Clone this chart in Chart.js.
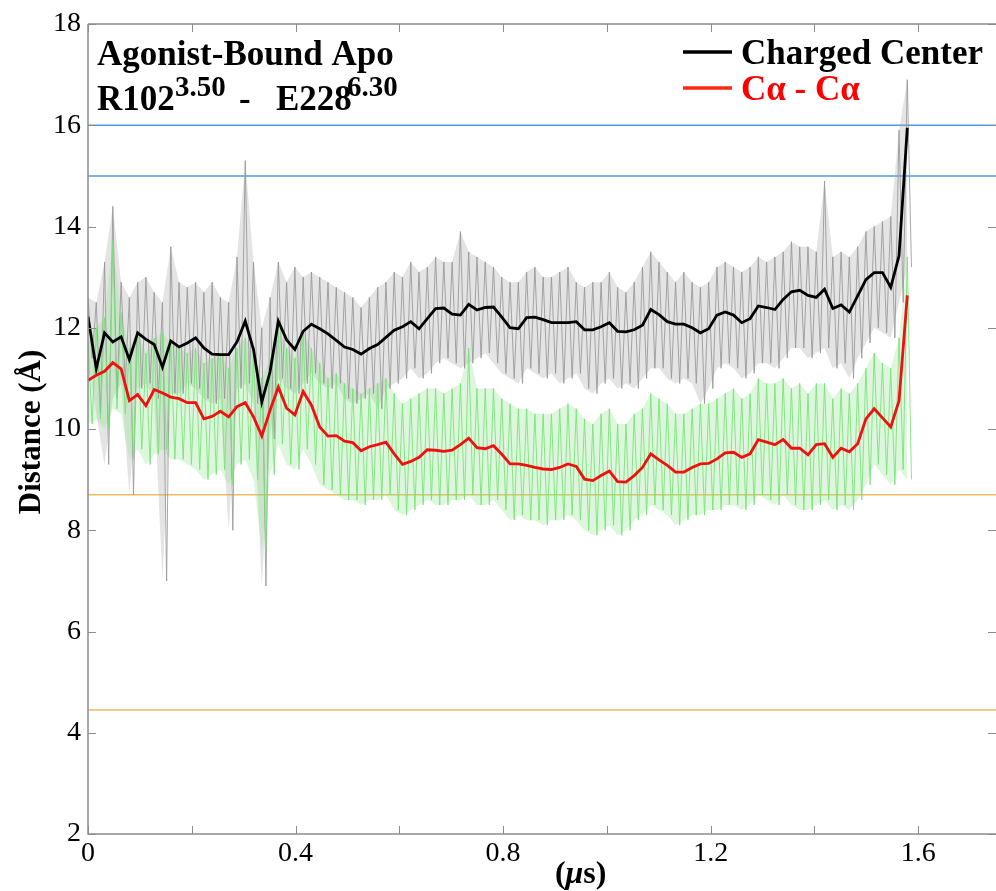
<!DOCTYPE html>
<html>
<head>
<meta charset="utf-8">
<script src="https://cdn.jsdelivr.net/npm/chart.js@4.4.1/dist/chart.umd.min.js"></script>
<style>
  html, body { margin: 0; padding: 0; background: #fff; }
  #wrap { width: 996px; height: 891px; }
</style>
</head>
<body>
<div id="wrap"><canvas id="distChart" width="996" height="891"></canvas></div>
<script>
// time between smoothed samples (us)
const timeStep = 0.01595;

// smoothed traces
const chargedCenter = [
  12.22, 11.19, 11.90, 11.72, 11.82, 11.37, 11.90, 11.77, 11.67, 11.22,
  11.74, 11.62, 11.70, 11.80, 11.60, 11.48, 11.47, 11.47, 11.72, 12.13,
  11.57, 10.53, 11.13, 12.13, 11.76, 11.57, 11.93, 12.07, 11.98, 11.88,
  11.75, 11.62, 11.57, 11.48, 11.59, 11.67, 11.81, 11.95, 12.02, 12.12,
  11.98, 12.18, 12.38, 12.39, 12.27, 12.25, 12.46, 12.35, 12.40, 12.41,
  12.21, 12.00, 11.98, 12.20, 12.21, 12.16, 12.10, 12.10, 12.10, 12.12,
  11.96, 11.96, 12.02, 12.10, 11.93, 11.92, 11.96, 12.05, 12.36, 12.26,
  12.12, 12.07, 12.07, 12.00, 11.90, 11.98, 12.25, 12.31, 12.25, 12.10,
  12.18, 12.43, 12.40, 12.36, 12.56, 12.71, 12.74, 12.64, 12.60, 12.76,
  12.38, 12.45, 12.31, 12.63, 12.95, 13.09, 13.09, 12.80, 13.42, 15.95
];
const caCa = [
  10.96, 11.06, 11.14, 11.31, 11.19, 10.56, 10.68, 10.46, 10.78, 10.71,
  10.63, 10.60, 10.52, 10.52, 10.20, 10.25, 10.35, 10.24, 10.44, 10.52,
  10.24, 9.86, 10.37, 10.83, 10.41, 10.28, 10.74, 10.47, 10.04, 9.86,
  9.87, 9.76, 9.73, 9.57, 9.65, 9.69, 9.74, 9.51, 9.30, 9.36,
  9.44, 9.59, 9.58, 9.56, 9.58, 9.69, 9.82, 9.63, 9.61, 9.67,
  9.50, 9.31, 9.31, 9.28, 9.24, 9.21, 9.20, 9.24, 9.31, 9.26,
  9.01, 8.98, 9.08, 9.17, 8.96, 8.95, 9.08, 9.24, 9.51, 9.39,
  9.28, 9.15, 9.15, 9.24, 9.31, 9.32, 9.41, 9.53, 9.54, 9.44,
  9.51, 9.79, 9.74, 9.69, 9.79, 9.62, 9.62, 9.49, 9.69, 9.71,
  9.44, 9.62, 9.55, 9.71, 10.20, 10.40, 10.22, 10.04, 10.56, 12.64
];

// raw fluctuations: highs and lows around each smoothed sample
const chargedHi = [
  12.6, 12.5, 13.3, 14.4, 12.9, 12.6, 12.9, 13.0, 12.7, 12.5,
  13.6, 12.9, 12.8, 12.9, 12.7, 12.9, 12.6, 12.5, 13.4, 15.3,
  13.3, 12.0, 12.6, 13.3, 12.9, 13.2, 13.0, 13.1, 13.0, 12.9,
  12.8, 12.7, 12.6, 12.4, 12.6, 12.8, 12.9, 13.1, 13.0, 13.3,
  13.1, 13.2, 13.4, 13.3, 13.3, 13.9, 13.5, 13.4, 13.3, 13.2,
  13.0, 12.9, 12.9, 13.1, 13.2, 13.0, 13.0, 13.1, 13.2, 12.9,
  12.8, 12.9, 12.9, 13.1, 12.8, 12.7, 12.9, 13.2, 13.5, 13.3,
  13.1, 12.9, 13.1, 12.9, 12.8, 12.9, 13.2, 13.3, 13.2, 13.1,
  13.2, 13.4, 13.3, 13.4, 13.5, 13.7, 13.6, 13.6, 13.5, 14.9,
  13.4, 13.5, 13.4, 13.6, 13.9, 14.0, 14.1, 14.2, 15.9, 16.9
];
const chargedLo = [
  11.4, 10.3, 9.3, 10.6, 10.9, 8.7, 10.8, 10.9, 10.6, 7.0,
  10.7, 10.7, 10.9, 10.8, 10.6, 10.5, 10.6, 8.0, 10.8, 10.9,
  10.5, 6.9, 9.8, 11.0, 10.8, 10.7, 10.9, 11.1, 10.9, 10.8,
  10.9, 10.6, 10.5, 10.6, 10.7, 10.4, 10.8, 10.9, 11.0, 11.2,
  11.0, 11.1, 11.3, 11.4, 11.3, 11.2, 11.3, 11.4, 11.5, 11.3,
  11.1, 11.0, 10.9, 11.2, 11.1, 11.0, 11.1, 10.9, 11.0, 11.1,
  10.8, 10.7, 10.9, 11.0, 10.8, 10.9, 10.8, 11.0, 11.2, 11.2,
  11.0, 10.9, 11.0, 10.9, 10.5, 10.8, 11.2, 11.3, 11.2, 11.0,
  11.1, 11.3, 11.3, 11.2, 11.4, 11.6, 11.6, 11.4, 11.5, 11.6,
  11.2, 11.3, 11.0, 11.4, 11.7, 12.0, 11.9, 11.8, 12.5, 13.2
];
const caHi = [
  11.7, 12.0, 12.2, 13.7, 12.3, 11.6, 11.9, 11.5, 11.8, 11.9,
  11.7, 11.6, 11.5, 11.6, 11.3, 11.4, 11.5, 11.2, 11.6, 11.8,
  11.5, 11.0, 11.4, 12.0, 11.6, 11.4, 11.9, 11.6, 11.3, 11.0,
  11.1, 10.9, 10.8, 10.7, 10.8, 10.9, 11.0, 10.7, 10.5, 10.6,
  10.7, 10.8, 10.8, 10.7, 10.8, 10.9, 11.6, 10.8, 10.8, 10.8,
  10.6, 10.5, 10.4, 10.4, 10.3, 10.3, 10.3, 10.4, 10.5, 10.4,
  10.2, 10.1, 10.3, 10.4, 10.1, 10.1, 10.3, 10.4, 10.7, 10.6,
  10.5, 10.3, 10.3, 10.4, 10.5, 10.5, 10.6, 10.7, 10.8, 10.6,
  10.7, 11.0, 10.9, 10.9, 11.0, 10.8, 10.9, 10.7, 10.9, 10.9,
  10.6, 10.8, 10.7, 10.9, 11.2, 11.5, 11.3, 11.2, 11.8, 13.4
];
const caLo = [
  10.1, 10.2, 10.0, 10.4, 10.3, 9.4, 9.6, 9.3, 9.5, 9.6,
  9.4, 9.4, 9.3, 9.2, 9.0, 9.1, 9.2, 8.9, 9.3, 9.4,
  9.0, 7.6, 9.1, 9.7, 9.3, 9.2, 9.6, 9.3, 8.9, 8.8,
  8.7, 8.6, 8.6, 8.5, 8.6, 8.6, 8.7, 8.4, 8.3, 8.4,
  8.5, 8.6, 8.5, 8.5, 8.6, 8.6, 8.7, 8.5, 8.5, 8.6,
  8.4, 8.2, 8.3, 8.2, 8.2, 8.1, 8.2, 8.2, 8.3, 8.2,
  8.0, 7.9, 8.0, 8.1, 7.9, 8.0, 8.2, 8.3, 8.5, 8.4,
  8.3, 8.1, 8.2, 8.3, 8.3, 8.4, 8.4, 8.5, 8.5, 8.4,
  8.5, 8.7, 8.6, 8.5, 8.7, 8.5, 8.4, 8.4, 8.5, 8.6,
  8.4, 8.5, 8.4, 8.6, 8.9, 9.3, 9.1, 8.9, 9.2, 9.0
];

// horizontal reference levels
const refLevels = [16, 15, 8.7, 4.45];
const refColors = ['#4a9de6', '#4a9de6', '#f2bb5c', '#f2bb5c'];

const xTicks = [0, 0.2, 0.4, 0.6, 0.8, 1.0, 1.2, 1.4, 1.6];
const xTickLabels = ['0', '', '0.4', '', '0.8', '', '1.2', '', '1.6'];
const yTicks = [2, 4, 6, 8, 10, 12, 14, 16, 18];
const yTickLabels = ['2', '4', '6', '8', '10', '12', '14', '16', '18'];

const X_MAX = 1.75;
const serif = '"Liberation Serif", "Times New Roman", serif';

function toPoints(vals) {
  return vals.map((v, i) => ({ x: i * timeStep, y: v }));
}
function zigzag(hi, lo) {
  const pts = [];
  hi.forEach((h, i) => {
    pts.push({ x: i * timeStep, y: h });
    pts.push({ x: (i + 0.5) * timeStep, y: lo[i] });
  });
  return pts;
}

const datasets = [];
refLevels.forEach((lvl, i) => {
  datasets.push({
    data: [{ x: 0, y: lvl }, { x: X_MAX, y: lvl }],
    borderColor: refColors[i],
    borderWidth: 1.5,
    pointRadius: 0,
    order: 10
  });
});
// shaded envelopes of the raw traces (hi filled down to lo)
datasets.push({
  data: toPoints(chargedHi),
  borderWidth: 0,
  pointRadius: 0,
  backgroundColor: 'rgba(165,165,165,0.3)',
  fill: '+1',
  order: 8
});
datasets.push({
  data: toPoints(chargedLo),
  borderWidth: 0,
  pointRadius: 0,
  order: 8
});
datasets.push({
  data: toPoints(caHi),
  borderWidth: 0,
  pointRadius: 0,
  backgroundColor: 'rgba(140,230,140,0.3)',
  fill: '+1',
  order: 7
});
datasets.push({
  data: toPoints(caLo),
  borderWidth: 0,
  pointRadius: 0,
  order: 7
});
datasets.push({
  data: zigzag(chargedHi, chargedLo),
  borderColor: 'rgba(150,150,150,0.85)',
  borderWidth: 1,
  pointRadius: 0,
  order: 6
});
datasets.push({
  data: zigzag(caHi, caLo),
  borderColor: 'rgba(120,225,120,0.85)',
  borderWidth: 1,
  pointRadius: 0,
  order: 5
});
datasets.push({
  data: toPoints(chargedCenter),
  borderColor: '#000000',
  borderWidth: 2.8,
  pointRadius: 0,
  order: 2
});
datasets.push({
  data: toPoints(caCa),
  borderColor: '#f01010',
  borderWidth: 2.8,
  pointRadius: 0,
  order: 1
});

// frame, inward ticks, titles and legend
const decorations = {
  id: 'decorations',
  afterDraw(chart) {
    const ctx = chart.ctx;
    const a = chart.chartArea;
    const xs = chart.scales.x, ys = chart.scales.y;
    ctx.save();
    ctx.strokeStyle = '#8c8c8c';
    ctx.lineWidth = 1.5;
    ctx.beginPath();
    ctx.moveTo(a.left, a.top); ctx.lineTo(a.right, a.top);
    ctx.moveTo(a.left, a.top); ctx.lineTo(a.left, a.bottom);
    ctx.lineTo(a.right, a.bottom);
    ctx.stroke();
    ctx.lineWidth = 1;
    ctx.beginPath();
    xTicks.forEach(v => {
      const px = Math.round(xs.getPixelForValue(v)) + 0.5;
      ctx.moveTo(px, a.bottom); ctx.lineTo(px, a.bottom - 8);
      ctx.moveTo(px, a.top); ctx.lineTo(px, a.top + 8);
    });
    yTicks.forEach(v => {
      const py = Math.round(ys.getPixelForValue(v)) + 0.5;
      ctx.moveTo(a.left, py); ctx.lineTo(a.left + 8, py);
      ctx.moveTo(a.right, py); ctx.lineTo(a.right - 8, py);
    });
    ctx.stroke();

    // axis titles
    ctx.fillStyle = '#000';
    ctx.save();
    ctx.translate(32, (a.top + a.bottom) / 2 + 3);
    ctx.rotate(-Math.PI / 2);
    ctx.textAlign = 'center';
    ctx.textBaseline = 'middle';
    ctx.font = 'bold 31px ' + serif;
    ctx.fillText('Distance (Å)', 0, 0);
    ctx.restore();

    ctx.textBaseline = 'alphabetic';
    ctx.textAlign = 'left';
    let tx = xs.getPixelForValue(0.95) - 26;
    const ty = 883;
    ctx.font = 'bold 32px ' + serif;
    ctx.fillText('(', tx, ty); tx += ctx.measureText('(').width;
    ctx.font = 'italic bold 32px ' + serif;
    ctx.fillText('μ', tx, ty); tx += ctx.measureText('μ').width;
    ctx.font = 'bold 32px ' + serif;
    ctx.fillText('s)', tx, ty);

    // panel label
    ctx.font = 'bold 35px ' + serif;
    ctx.fillText('Agonist-Bound Apo', 97, 65);
    ctx.fillText('R102', 97, 110);
    ctx.fillText('-', 239, 110);
    ctx.fillText('E228', 276, 110);
    ctx.font = 'bold 29px ' + serif;
    ctx.fillText('3.50', 97 + 78, 96);
    ctx.fillText('6.30', 276 + 71, 96);

    // legend
    ctx.lineWidth = 3.5;
    ctx.strokeStyle = '#000';
    ctx.beginPath(); ctx.moveTo(683, 52); ctx.lineTo(732, 52); ctx.stroke();
    ctx.strokeStyle = '#ff2a10';
    ctx.beginPath(); ctx.moveTo(683, 88); ctx.lineTo(732, 88); ctx.stroke();
    ctx.font = 'bold 35px ' + serif;
    ctx.fillStyle = '#000';
    ctx.fillText('Charged Center', 741, 64);
    ctx.fillStyle = '#ff0000';
    ctx.fillText('Cα - Cα', 741, 100);
    ctx.restore();
  }
};

new Chart(document.getElementById('distChart'), {
  type: 'line',
  data: { datasets: datasets },
  options: {
    responsive: false,
    animation: false,
    layout: { padding: { top: 24, right: 0, left: 0, bottom: 0 } },
    elements: { line: { tension: 0 } },
    plugins: { legend: { display: false }, tooltip: { enabled: false } },
    scales: {
      x: {
        type: 'linear',
        min: 0,
        max: X_MAX,
        afterBuildTicks: s => { s.ticks = xTicks.map(v => ({ value: v })); },
        afterFit: s => { s.height = 57; },
        grid: { display: false, drawTicks: false },
        border: { display: false },
        ticks: {
          autoSkip: false,
          maxRotation: 0,
          padding: 3,
          color: '#000',
          font: { family: serif, size: 28 },
          callback: (v, i) => xTickLabels[i]
        }
      },
      y: {
        min: 2,
        max: 18,
        afterBuildTicks: s => { s.ticks = yTicks.map(v => ({ value: v })); },
        afterFit: s => { s.width = 88; },
        grid: { display: false, drawTicks: false },
        border: { display: false },
        ticks: {
          padding: 7,
          color: '#000',
          font: { family: serif, size: 28 },
          callback: (v, i) => yTickLabels[i]
        }
      }
    }
  },
  plugins: [decorations]
});
</script>
</body>
</html>
